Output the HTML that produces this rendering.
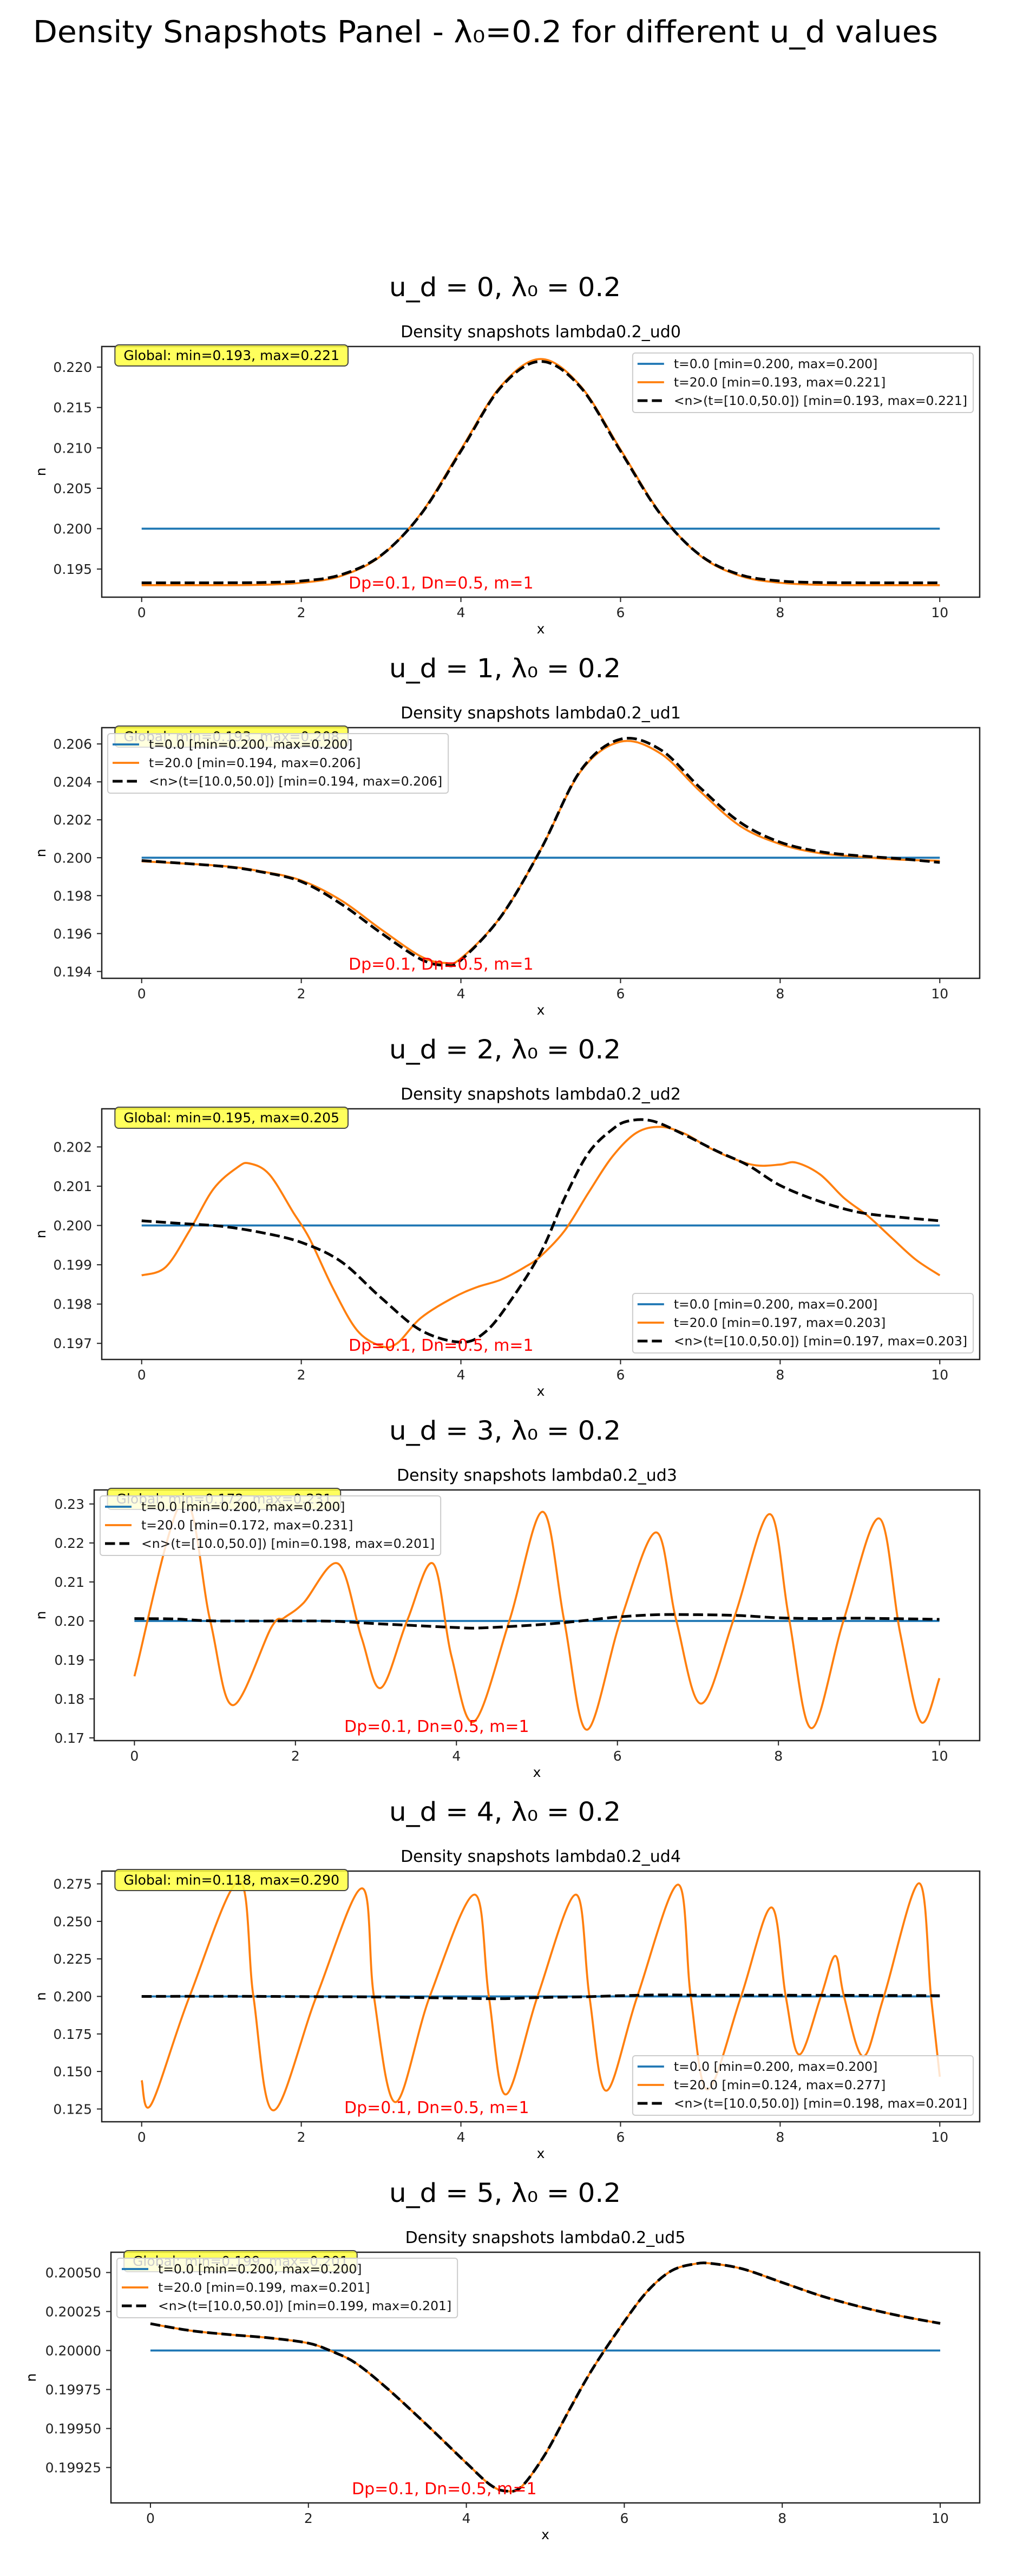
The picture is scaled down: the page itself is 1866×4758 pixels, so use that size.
<!DOCTYPE html>
<html><head><meta charset="utf-8"><title>Density Snapshots Panel</title>
<style>
html,body{margin:0;padding:0;background:#fff;}
svg{display:block;font-family:"DejaVu Sans","Liberation Sans",sans-serif;}
</style></head>
<body>
<svg id="fig" xmlns="http://www.w3.org/2000/svg" width="1866" height="4758" viewBox="0 0 1866 4758">
<rect x="0" y="0" width="1866" height="4758" fill="#fff"/>
<text x="61" y="78" font-size="56" textLength="1672" lengthAdjust="spacingAndGlyphs">Density Snapshots Panel - λ₀=0.2 for different u_d values</text>
</svg>
<script>
// ---- data ----
const xTicks = [0, 2, 4, 6, 8, 10];
const blueVals = [0.2, 0.2];
const blueX = [0, 10];

// Panel 1 (u_d = 0)
const p1X = [0,0.5,1,1.5,2,2.5,3,3.5,4,4.5,5,5.5,6,6.5,7,7.5,8,8.5,9,9.5,10];
const p1Orange = [0.1930,0.1930,0.1930,0.19305,0.1933,0.19415,0.19664,0.20188,0.2098,0.21764,0.2210,0.21764,0.2098,0.20188,0.19664,0.19415,0.1933,0.19305,0.1930,0.1930,0.1930];
const p1Dash = [0.1933,0.1933,0.1933,0.19333,0.19352,0.1943,0.1967,0.2018,0.2096,0.2175,0.2207,0.2175,0.2096,0.2018,0.1967,0.1943,0.19352,0.19333,0.1933,0.1933,0.1933];
const p1Ticks = [0.195,0.200,0.205,0.210,0.215,0.220];

// Panel 2 (u_d = 1)
const p2X = [0,1,1.5,2,2.5,3,3.5,3.8,4,4.5,5,5.5,6,6.5,7,7.5,8,8.5,9,9.5,10];
const p2Orange = [0.19981,0.19957,0.19928,0.19880,0.19775,0.19622,0.19479,0.19445,0.19469,0.19689,0.20043,0.20455,0.20612,0.20550,0.20349,0.20167,0.20072,0.20024,0.20005,0.19990,0.19984];
const p2Dash = [0.19985,0.19955,0.19925,0.19874,0.19756,0.19603,0.19464,0.19433,0.19460,0.19689,0.20043,0.20460,0.20625,0.20570,0.20368,0.20186,0.20082,0.20032,0.20010,0.19995,0.19975];
const p2Ticks = [0.194,0.196,0.198,0.200,0.202,0.204,0.206];

// Panel 3 (u_d = 2)
const p3OX = [0,0.3,0.6,0.9,1.2,1.35,1.6,1.9,2.1,2.4,2.7,3.0,3.2,3.5,3.9,4.2,4.5,4.8,5.0,5.3,5.6,5.9,6.2,6.5,6.8,7.1,7.4,7.7,8.0,8.2,8.5,8.8,9.1,9.4,9.7,10];
const p3Orange = [0.19873,0.19894,0.19987,0.20093,0.20148,0.20158,0.20130,0.20033,0.19968,0.19839,0.19733,0.19693,0.19700,0.19765,0.19816,0.19843,0.19862,0.19894,0.19922,0.19987,0.20084,0.20176,0.20236,0.20251,0.20234,0.20199,0.20171,0.20153,0.20155,0.20160,0.20130,0.20070,0.20024,0.19968,0.19913,0.19873];
const p3DX = [0,0.5,1,1.5,2,2.5,3,3.5,4,4.3,4.6,5,5.3,5.6,5.9,6.1,6.4,6.8,7.2,7.6,8,8.5,9,9.5,10];
const p3Dash = [0.20012,0.20005,0.19998,0.19982,0.19957,0.19908,0.19816,0.19733,0.19703,0.19728,0.19802,0.19931,0.20070,0.20185,0.20245,0.20266,0.20266,0.20231,0.20190,0.20153,0.20102,0.20061,0.20033,0.20021,0.20012];
const p3Ticks = [0.197,0.198,0.199,0.200,0.201,0.202];

// Panel 4 (u_d = 3)
const p4OX = [0,0.6,0.94,1.22,1.70,1.86,2.10,2.53,2.82,3.06,3.39,3.71,3.94,4.22,4.66,5.07,5.34,5.62,6.04,6.48,6.73,7.04,7.45,7.89,8.13,8.41,8.81,9.25,9.51,9.77,10];
const p4Orange = [0.1858,0.2310,0.2002,0.1784,0.1983,0.2008,0.2046,0.2147,0.1958,0.1828,0.2002,0.2147,0.1908,0.1742,0.2002,0.2280,0.1999,0.1721,0.2002,0.2227,0.2002,0.1788,0.2008,0.2274,0.2008,0.1725,0.2002,0.2263,0.1971,0.1741,0.1853];
const p4DX = [0,0.5,1,2,2.5,3,3.5,4,4.3,5,5.5,6,6.5,7,7.5,8,8.5,9,10];
const p4Dash = [0.2006,0.2005,0.2000,0.2000,0.1999,0.1993,0.1988,0.1983,0.1982,0.1990,0.1999,0.2010,0.2016,0.2016,0.2014,0.2008,0.2006,0.2007,0.2004];
const p4Ticks = [0.17,0.18,0.19,0.20,0.21,0.22,0.23];

// Panel 5 (u_d = 4)
const p5OX = [0,0.12,0.6,1.22,1.40,1.65,2.19,2.76,2.91,3.18,3.61,4.17,4.35,4.56,4.96,5.44,5.61,5.82,6.21,6.72,6.88,7.09,7.51,7.89,8.07,8.24,8.51,8.69,8.80,9.04,9.30,9.74,9.89,10];
const p5Orange = [0.1441,0.1281,0.2000,0.2766,0.2000,0.1241,0.2000,0.2720,0.2000,0.1296,0.2000,0.2678,0.2000,0.1347,0.2000,0.2678,0.2000,0.1372,0.2000,0.2745,0.2000,0.1380,0.2000,0.2593,0.2000,0.1613,0.2000,0.2270,0.2000,0.1601,0.2000,0.2754,0.2000,0.1465];
const p5DX = [0,1,2,3,4,4.5,5,5.5,6,6.5,7,8,9,10];
const p5Dash = [0.2000,0.2001,0.1999,0.1996,0.1988,0.1985,0.1993,0.1997,0.2005,0.2010,0.2008,0.2008,0.2007,0.2005];
const p5Ticks = [0.125,0.150,0.175,0.200,0.225,0.250,0.275];

// Panel 6 (u_d = 5)
const p6X = [0,0.5,1,1.5,2,2.3,2.6,3,3.5,4,4.3,4.5,4.7,5,5.3,5.6,6,6.3,6.6,6.9,7.1,7.5,8,8.5,9,9.5,10];
const p6Orange = [0.200172,0.200128,0.200102,0.200081,0.200047,0.199994,0.199919,0.199756,0.199523,0.199279,0.199140,0.199099,0.199128,0.199337,0.199616,0.199884,0.200186,0.200384,0.200512,0.200556,0.200558,0.200523,0.200436,0.200349,0.200279,0.200221,0.200174];
const p6Dash = [0.200172,0.200128,0.200102,0.200081,0.200047,0.199994,0.199919,0.199756,0.199523,0.199279,0.199140,0.199099,0.199128,0.199337,0.199616,0.199884,0.200186,0.200384,0.200512,0.200556,0.200558,0.200523,0.200436,0.200349,0.200279,0.200221,0.200174];
const p6Ticks = [0.19925,0.19950,0.19975,0.20000,0.20025,0.20050];

const panels = [
 {ud:0, L:188, ylim:[0.19152,0.22255], ticks:p1Ticks, dec:3, ox:p1X, oy:p1Orange, dx:p1X, dy:p1Dash, oLab:"[min=0.193, max=0.221]", dLab:"[min=0.193, max=0.221]", glob:"Global: min=0.193, max=0.221", loc:"ur", red:644, nx:75},
 {ud:1, L:188, ylim:[0.19364,0.20686], ticks:p2Ticks, dec:3, ox:p2X, oy:p2Orange, dx:p2X, dy:p2Dash, oLab:"[min=0.194, max=0.206]", dLab:"[min=0.194, max=0.206]", glob:"Global: min=0.193, max=0.208", loc:"ul", red:644, nx:75},
 {ud:2, L:188, ylim:[0.19659,0.20297], ticks:p3Ticks, dec:3, ox:p3OX, oy:p3Orange, dx:p3DX, dy:p3Dash, oLab:"[min=0.197, max=0.203]", dLab:"[min=0.197, max=0.203]", glob:"Global: min=0.195, max=0.205", loc:"lr", red:644, nx:75},
 {ud:3, L:174, ylim:[0.1693,0.2336], ticks:p4Ticks, dec:2, ox:p4OX, oy:p4Orange, dx:p4DX, dy:p4Dash, oLab:"[min=0.172, max=0.231]", dLab:"[min=0.198, max=0.201]", glob:"Global: min=0.172, max=0.231", loc:"ul", red:636, nx:75},
 {ud:4, L:188, ylim:[0.1165,0.2835], ticks:p5Ticks, dec:3, ox:p5OX, oy:p5Orange, dx:p5DX, dy:p5Dash, oLab:"[min=0.124, max=0.277]", dLab:"[min=0.198, max=0.201]", glob:"Global: min=0.118, max=0.290", loc:"lr", red:636, nx:75},
 {ud:5, L:205, ylim:[0.199023,0.200630], ticks:p6Ticks, dec:5, ox:p6X, oy:p6Orange, dx:p6X, dy:p6Dash, oLab:"[min=0.199, max=0.201]", dLab:"[min=0.199, max=0.201]", glob:"Global: min=0.199, max=0.201", loc:"ul", red:650, nx:57}
];

const NS = "http://www.w3.org/2000/svg";
const fig = document.getElementById('fig');
function mk(tag, attrs, parent){
  const e = document.createElementNS(NS, tag);
  for (const k in attrs) e.setAttribute(k, attrs[k]);
  (parent||fig).appendChild(e);
  return e;
}
function smoothPath(pts){
  let d = "M" + pts[0][0].toFixed(2) + "," + pts[0][1].toFixed(2);
  for (let i=0;i<pts.length-1;i++){
    const p0 = pts[Math.max(0,i-1)], p1 = pts[i], p2 = pts[i+1], p3 = pts[Math.min(pts.length-1,i+2)];
    const c1x = p1[0] + (p2[0]-p0[0])/6, c1y = p1[1] + (p2[1]-p0[1])/6;
    const c2x = p2[0] - (p3[0]-p1[0])/6, c2y = p2[1] - (p3[1]-p1[1])/6;
    d += " C" + c1x.toFixed(2)+","+c1y.toFixed(2)+" "+c2x.toFixed(2)+","+c2y.toFixed(2)+" "+p2[0].toFixed(2)+","+p2[1].toFixed(2);
  }
  return d;
}
const BLUE="#1f77b4", ORANGE="#ff7f0e";
const R = 1810, H = 463, XMIN=-0.5, XMAX=10.5;

panels.forEach((p, k) => {
  const T = 640 + 704*k, B = T + H, L = p.L, W = R - L;
  const xs = v => L + (v - XMIN)/(XMAX - XMIN)*W;
  const ys = v => B - (v - p.ylim[0])/(p.ylim[1]-p.ylim[0])*H;
  const g = mk('g', {});
  
  

  const st = mk('text', {x:933, y:T-93, 'font-size':48, 'text-anchor':'middle', textLength:428, lengthAdjust:'spacingAndGlyphs'}, g);
  
  
  st.textContent = "u_d = " + p.ud + ", λ₀ = 0.2";

  const at = mk('text', {x:(L+R)/2, y:T-17, 'font-size':30, 'text-anchor':'middle', 'xml:space':'preserve'}, g);
  
  
  at.textContent = "Density snapshots  lambda0.2_ud" + p.ud;

  const clipId = 'clip' + k;
  const cp = mk('clipPath', {id:clipId}, g);
  mk('rect', {x:L, y:T, width:W, height:H}, cp);
  const plot = mk('g', {'clip-path':'url(#'+clipId+')'}, g);
  
  

  const bl = mk('path', {d: smoothPath(blueX.map((x,i)=>[xs(x), ys(blueVals[i])])), stroke:BLUE, 'stroke-width':3.75, fill:'none'}, plot);
  
  
  const ol = mk('path', {d: smoothPath(p.ox.map((x,i)=>[xs(x), ys(p.oy[i])])), stroke:ORANGE, 'stroke-width':3.75, fill:'none', 'stroke-linejoin':'round'}, plot);
  
  
  const dl = mk('path', {d: smoothPath(p.dx.map((x,i)=>[xs(x), ys(p.dy[i])])), stroke:'#000', 'stroke-width':5, fill:'none', 'stroke-dasharray':'18.5 8'}, plot);
  
  

  const fr = mk('rect', {x:L, y:T, width:W, height:H, fill:'none', stroke:'#222', 'stroke-width':2.5}, g);
  
  

  xTicks.forEach(v => {
    const x = xs(v);
    mk('line', {x1:x, x2:x, y1:B, y2:B+9, stroke:'#222', 'stroke-width':2}, g);
    const t = mk('text', {x:x, y:B+37, 'font-size':25, 'text-anchor':'middle', fill:'#222'}, g);
    
    
    t.textContent = String(v);
  });
  p.ticks.forEach(v => {
    const y = ys(v);
    mk('line', {x1:L-9, x2:L, y1:y, y2:y, stroke:'#222', 'stroke-width':2}, g);
    const t = mk('text', {x:L-18, y:y+9, 'font-size':25, 'text-anchor':'end', fill:'#222'}, g);
    
    
    t.textContent = v.toFixed(p.dec);
  });
  const xl = mk('text', {x:(L+R)/2, y:B+67, 'font-size':25, 'text-anchor':'middle'}, g);
  
  
  xl.textContent = "x";
  const yl = mk('text', {x:0, y:0, 'font-size':25, 'text-anchor':'middle', transform:'translate('+(p.nx+9)+','+(T+H/2)+') rotate(-90)'}, g);
  
  
  yl.textContent = "n";

  const rt = mk('text', {x:p.red, y:B-16, 'font-size':30, fill:'#ff0000'}, g);
  
  
  rt.textContent = "Dp=0.1, Dn=0.5, m=1";

  // global box
  const gb = mk('g', {}, g);
  
  
  const gx = L + 0.015*W, gy = T - 3;
  const grect = mk('rect', {x:gx, y:gy, height:39, width:430, rx:7, fill:'#ffff40', 'fill-opacity':0.85, stroke:'#444', 'stroke-width':2}, gb);
  const gt = mk('text', {x:gx+16, y:gy+28, 'font-size':25}, gb);
  gt.textContent = p.glob;
  const gw = gt.getComputedTextLength();
  grect.setAttribute('width', (gw + 32).toFixed(1));

  // legend
  const lg = mk('g', {}, g);
  
  
  const labels = ["t=0.0 [min=0.200, max=0.200]", "t=20.0 " + p.oLab, "<n>(t=[10.0,50.0]) " + p.dLab];
  const lrect = mk('rect', {x:0, y:0, width:10, height:110, rx:5, fill:'#fff', 'fill-opacity':0.8, stroke:'#ccc', 'stroke-width':2}, lg);
  const texts = labels.map(s => { const t = mk('text', {x:0, y:0, 'font-size':23.5, fill:'#111'}, lg); t.textContent = s; return t; });
  const tw = Math.max(...texts.map(t => t.getComputedTextLength()));
  const lw = 9 + 49 + 18 + tw + 11, lh = 110;
  let lx, ly;
  if (p.loc === 'ur') { lx = R - 12 - lw; ly = T + 12; }
  else if (p.loc === 'ul') { lx = L + 11; ly = T + 11; }
  else { lx = R - 12 - lw; ly = B - 12 - lh; }
  lrect.setAttribute('x', lx); lrect.setAttribute('y', ly); lrect.setAttribute('width', lw);
  const styles = [[BLUE,3.75,null],[ORANGE,3.75,null],['#000',5,'18.5 8']];
  texts.forEach((t,i) => {
    const cy = ly + 20 + 34*i;
    t.setAttribute('x', lx + 76); t.setAttribute('y', cy + 8);
    const a = {x1:lx+9, x2:lx+58, y1:cy, y2:cy, stroke:styles[i][0], 'stroke-width':styles[i][1]};
    if (styles[i][2]) a['stroke-dasharray'] = styles[i][2];
    const h = mk('line', a, lg);
    
    
  });
});
</script>
</body></html>
